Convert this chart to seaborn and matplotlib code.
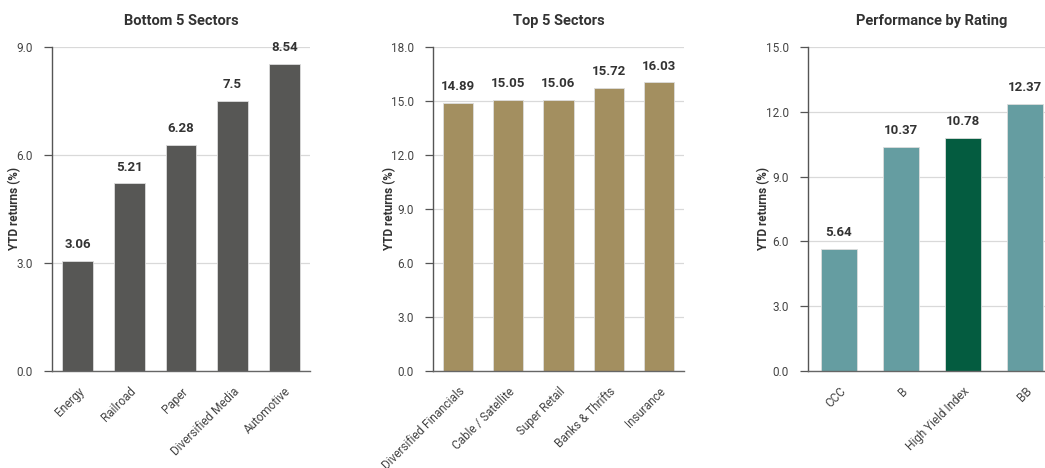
import matplotlib
matplotlib.use("Agg")
import matplotlib.pyplot as plt
import seaborn as sns
import pandas as pd

bottom_sectors = ["Energy", "Railroad", "Paper", "Diversified Media", "Automotive"]
bottom_values = [3.06, 5.21, 6.28, 7.5, 8.54]

top_sectors = ["Diversified Financials", "Cable / Satellite", "Super Retail", "Banks & Thrifts", "Insurance"]
top_values = [14.89, 15.05, 15.06, 15.72, 16.03]

ratings = ["CCC", "B", "High Yield Index", "BB"]
rating_values = [5.64, 10.37, 10.78, 12.37]

titles = ["Bottom 5 Sectors", "Top 5 Sectors", "Performance by Rating"]
y_maxes = [9.0, 18.0, 15.0]
y_ticks = [[0, 3, 6, 9], [0, 3, 6, 9, 12, 15, 18], [0, 3, 6, 9, 12, 15]]

sns.set_theme(style="white")
plt.rcParams['font.family'] = ['Roboto', 'DejaVu Sans']

fig = plt.figure(figsize=(10.45, 4.68), dpi=100)
H = 0.6923
B = 0.2073
positions = [
    [52 / 1045, B, 258 / 1045, H],
    [433 / 1045, B, 251 / 1045, H],
    [808 / 1045, B, 248 / 1045, H],
]
ylabel_x = [(21 - 52) / 258, (396 - 433) / 251, (770 - 808) / 248]

panels = [
    (bottom_sectors, bottom_values, ["#575755"] * 5),
    (top_sectors, top_values, ["#a38f60"] * 5),
    (ratings, rating_values, ["#659da1", "#659da1", "#045c40", "#659da1"]),
]

text_color = "#333333"

for i, ((cats, vals, cols), title, ymax, ticks) in enumerate(zip(panels, titles, y_maxes, y_ticks)):
    ax = fig.add_axes(positions[i])
    df = pd.DataFrame({"cat": cats, "val": vals})
    sns.barplot(data=df, x="cat", y="val", hue="cat", palette=cols, legend=False,
                width=0.6 if i < 2 else 0.57, ax=ax, saturation=1,
                edgecolor="#dddddd", linewidth=0.6)
    ax.set_ylim(0, ymax)
    ax.set_xlim(-0.5, len(cats) - 0.5)
    ax.set_yticks(ticks)
    ax.set_yticklabels([f"{t:.1f}" for t in ticks], fontsize=8.5, color="#444444")
    ax.yaxis.grid(True, color="#d9d9d9", linewidth=0.9)
    ax.set_axisbelow(True)
    for s in ["top", "right"]:
        ax.spines[s].set_visible(False)
    ax.spines["left"].set_color("#555555")
    ax.spines["left"].set_linewidth(1.0)
    ax.spines["bottom"].set_color("#666666")
    ax.spines["bottom"].set_linewidth(1.0)
    ax.tick_params(axis="y", left=True, length=6, width=0.9, color="#555555", pad=8)
    ax.tick_params(axis="x", bottom=False, pad=4)
    ax.set_xticks(range(len(cats)))
    ax.set_xticklabels(cats, rotation=45, ha="right", rotation_mode="anchor",
                       fontsize=8.5, color="#444444")
    ax.set_xlabel("")
    ax.set_ylabel("YTD returns (%)", fontsize=8.5, fontweight="bold", color=text_color)
    ax.yaxis.set_label_coords(ylabel_x[i], 0.5)
    ax.set_title(title, fontsize=10.5, fontweight="bold", color=text_color, pad=16)
    for p in ax.patches:
        h = p.get_height()
        if h is None or h != h or h == 0:
            continue
        ax.annotate(f"{h:g}", (p.get_x() + p.get_width() / 2, h), xytext=(0, 7),
                    textcoords="offset points", ha="center", va="bottom",
                    fontsize=9.5, fontweight="bold", color=text_color)

fig.savefig("out.png", dpi=100, facecolor="white")
